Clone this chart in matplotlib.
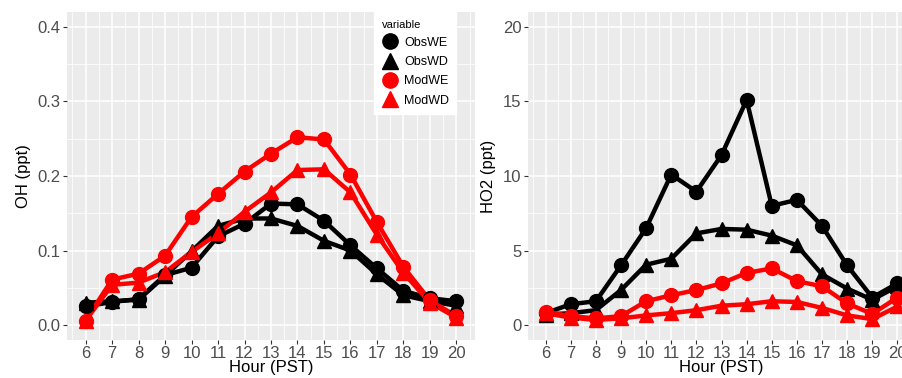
import matplotlib

matplotlib.use("Agg")
import matplotlib.pyplot as plt
from matplotlib.lines import Line2D
import numpy as np

plt.rcParams["font.family"] = ["Liberation Sans", "DejaVu Sans"]

hours = list(range(6, 21))
series_names = ["ObsWE", "ObsWD", "ModWE", "ModWD"]

oh_obs_we = [0.025, 0.031, 0.035, 0.067, 0.077, 0.119, 0.136, 0.163, 0.162, 0.140, 0.107, 0.076, 0.046, 0.036, 0.032]
oh_obs_wd = [0.030, 0.032, 0.034, 0.066, 0.099, 0.133, 0.143, 0.143, 0.133, 0.113, 0.100, 0.068, 0.040, 0.032, 0.026]
oh_mod_we = [0.006, 0.061, 0.069, 0.093, 0.145, 0.176, 0.206, 0.230, 0.252, 0.249, 0.202, 0.138, 0.078, 0.033, 0.012]
oh_mod_wd = [0.006, 0.054, 0.057, 0.071, 0.098, 0.123, 0.152, 0.178, 0.208, 0.209, 0.178, 0.121, 0.070, 0.030, 0.010]

ho2_obs_we = [0.8, 1.4, 1.6, 4.0, 6.5, 10.1, 8.95, 11.4, 15.1, 8.0, 8.4, 6.65, 4.0, 1.85, 2.8]
ho2_obs_wd = [0.7, 0.8, 1.0, 2.35, 4.05, 4.45, 6.15, 6.45, 6.4, 6.0, 5.35, 3.4, 2.45, 1.7, 2.6]
ho2_mod_we = [0.9, 0.6, 0.45, 0.6, 1.6, 2.0, 2.35, 2.8, 3.5, 3.8, 2.95, 2.6, 1.45, 0.75, 1.85]
ho2_mod_wd = [0.8, 0.5, 0.35, 0.45, 0.65, 0.8, 1.0, 1.3, 1.4, 1.6, 1.55, 1.15, 0.65, 0.4, 1.25]

colors = ["black", "black", "red", "red"]
markers = ["o", "^", "o", "^"]

GRAY_BG = "#EBEBEB"
TICK_COL = "#4D4D4D"


def style_axis(ax, ymax, ystep, ylabel):
    ax.set_facecolor(GRAY_BG)
    for sp in ax.spines.values():
        sp.set_visible(False)
    ax.set_xlim(5.3, 20.7)
    ax.set_ylim(-0.05 * ymax, 1.05 * ymax)
    ax.set_xticks(hours)
    ax.set_xticks(np.arange(5.5, 21, 1.0), minor=True)
    yt = np.arange(0, ymax + ystep / 2, ystep)
    ax.set_yticks(yt)
    ax.set_yticks(yt[:-1] + ystep / 2, minor=True)
    ax.grid(which="major", color="white", linewidth=1.1)
    ax.grid(which="minor", color="white", linewidth=0.55)
    ax.set_axisbelow(True)
    ax.tick_params(which="major", length=3, width=0.8, color="#333333",
                   labelsize=12, labelcolor=TICK_COL, pad=1.5)
    ax.tick_params(which="minor", length=0)
    ax.set_xlabel("Hour (PST)", fontsize=12, labelpad=-1)
    ax.set_ylabel(ylabel, fontsize=12, labelpad=5)


def draw(ax, data):
    for ys, c in zip(data, colors):
        ax.plot(hours, ys, color=c, linewidth=3.2, solid_joinstyle="round", zorder=2)
    for ys, c, m in zip(data, colors, markers):
        ax.plot(hours, ys, linestyle="none", marker=m, color=c,
                markersize=10 if m == "o" else 10.5, zorder=3)


fig = plt.figure(figsize=(9.03, 3.78), dpi=100)
ax1 = fig.add_axes([67 / 903, 38 / 378, 408 / 903, 328 / 378])
ax2 = fig.add_axes([528 / 903, 38 / 378, 387 / 903, 328 / 378])

draw(ax1, [oh_obs_we, oh_obs_wd, oh_mod_we, oh_mod_wd])
style_axis(ax1, 0.4, 0.1, "OH (ppt)")
ax1.set_yticklabels(["0.0", "0.1", "0.2", "0.3", "0.4"])

draw(ax2, [ho2_obs_we, ho2_obs_wd, ho2_mod_we, ho2_mod_wd])
style_axis(ax2, 20, 5, "HO2 (ppt)")

handles = [Line2D([], [], linestyle="none", marker=m, color=c, markersize=11)
           for c, m in zip(colors, markers)]
leg = fig.legend(handles, series_names, title="variable", loc="upper left",
                 bbox_to_anchor=(374 / 903, 1 - 12 / 378), fontsize=9,
                 title_fontsize=8, frameon=True, fancybox=False,
                 handlelength=1.3, handletextpad=0.5, labelspacing=0.58,
                 borderpad=0.6, borderaxespad=0)
leg.get_frame().set_facecolor("white")
leg.get_frame().set_edgecolor("white")
leg.get_frame().set_alpha(1.0)
leg._legend_box.align = "left"

fig.savefig("out.png", dpi=100)
